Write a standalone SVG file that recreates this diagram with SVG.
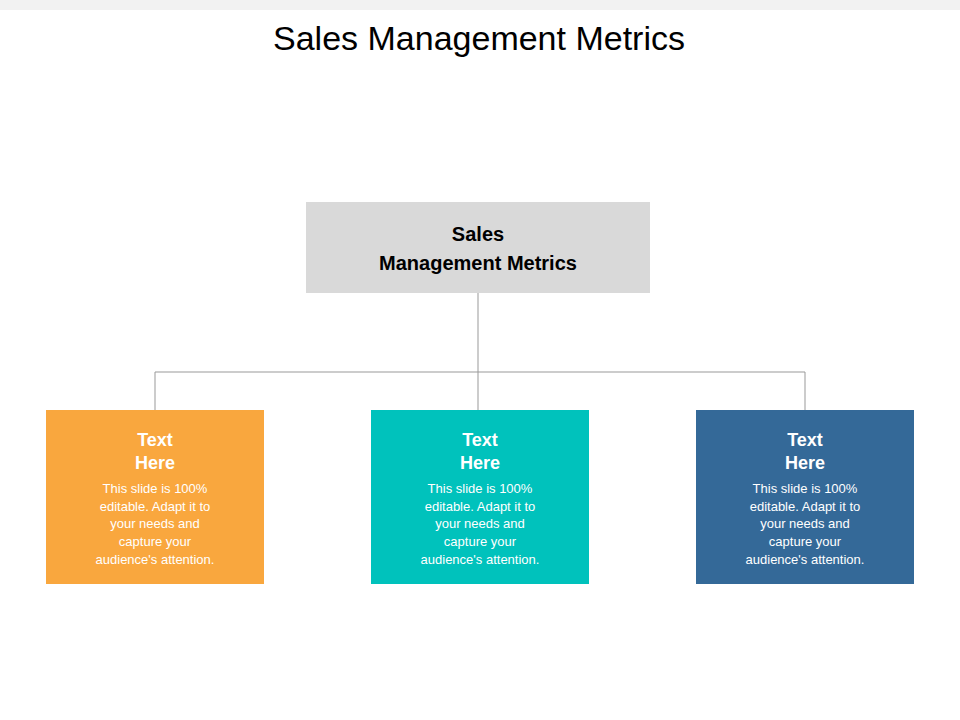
<svg xmlns="http://www.w3.org/2000/svg" width="960" height="720" viewBox="0 0 960 720">
<style>
.t{font-family:"Liberation Sans",Arial,sans-serif;text-anchor:middle}
.h{font-size:18px;font-weight:bold;fill:#fff}
.b{font-size:13px;fill:#fff}
.c{stroke:#999;stroke-width:1;fill:none}
</style>
<rect width="960" height="720" fill="#fff"/>
<rect width="960" height="10" fill="#f2f2f2"/>
<text class="t" x="479" y="50" font-size="34" fill="#000">Sales Management Metrics</text>
<g id="connectors">
<path class="c" d="M478 293V410M155 410V372H805V410"/>
</g>
<g id="root">
<rect x="306" y="202" width="344" height="91" fill="#d9d9d9"/>
<text class="t" x="478" y="241" font-size="20" font-weight="bold" fill="#000">Sales</text>
<text class="t" x="478" y="270" font-size="20" font-weight="bold" fill="#000">Management Metrics</text>
</g>
<g id="n1">
<rect x="46" y="410" width="218" height="174" fill="#f9a73e"/>
<text class="t h" x="155" y="446">Text</text><text class="t h" x="155" y="469">Here</text>
<text class="t b" x="155" y="493">This slide is 100%</text><text class="t b" x="155" y="511">editable. Adapt it to</text><text class="t b" x="155" y="528">your needs and</text><text class="t b" x="155" y="546">capture your</text><text class="t b" x="155" y="564">audience's attention.</text>
</g>
<g id="n2">
<rect x="371" y="410" width="218" height="174" fill="#00c2bc"/>
<text class="t h" x="480" y="446">Text</text><text class="t h" x="480" y="469">Here</text>
<text class="t b" x="480" y="493">This slide is 100%</text><text class="t b" x="480" y="511">editable. Adapt it to</text><text class="t b" x="480" y="528">your needs and</text><text class="t b" x="480" y="546">capture your</text><text class="t b" x="480" y="564">audience's attention.</text>
</g>
<g id="n3">
<rect x="696" y="410" width="218" height="174" fill="#346998"/>
<text class="t h" x="805" y="446">Text</text><text class="t h" x="805" y="469">Here</text>
<text class="t b" x="805" y="493">This slide is 100%</text><text class="t b" x="805" y="511">editable. Adapt it to</text><text class="t b" x="805" y="528">your needs and</text><text class="t b" x="805" y="546">capture your</text><text class="t b" x="805" y="564">audience's attention.</text>
</g>
</svg>
